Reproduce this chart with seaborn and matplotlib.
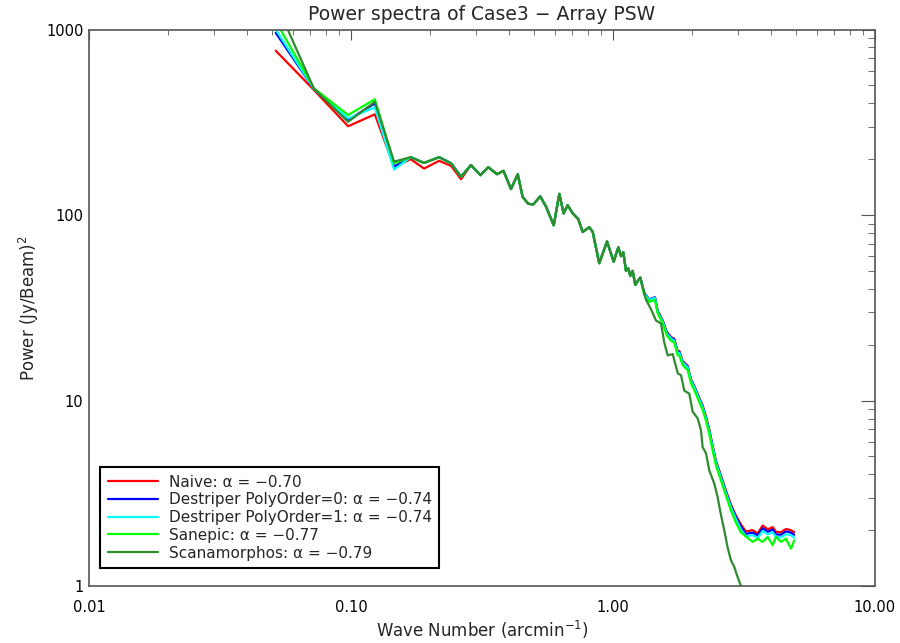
import matplotlib
matplotlib.use('Agg')
import matplotlib.pyplot as plt
import matplotlib.ticker as mticker
import seaborn as sns
import pandas as pd

# Wave numbers (arcmin^-1)
k_low = [0.0516, 0.0722, 0.0975, 0.1233, 0.146]
k_mid = [0.169, 0.190, 0.217, 0.241, 0.263, 0.287, 0.312, 0.334, 0.361, 0.382,
         0.408, 0.433, 0.452, 0.475, 0.496, 0.528, 0.555, 0.594, 0.624, 0.648,
         0.671, 0.702, 0.737, 0.766, 0.812, 0.837, 0.886, 0.949, 1.006, 1.048,
         1.073, 1.095, 1.121, 1.144, 1.164, 1.189, 1.216, 1.242, 1.271]
k_high = [1.316, 1.376, 1.446, 1.481, 1.548, 1.603, 1.665, 1.714, 1.767, 1.791,
          1.845, 1.927, 1.985, 2.043, 2.135, 2.199, 2.264, 2.331, 2.400, 2.470,
          2.581, 2.697, 2.818, 2.945, 3.077, 3.215, 3.414, 3.567, 3.727, 3.895,
          4.070, 4.188, 4.376, 4.572, 4.778, 4.918]
k_high_scana = [1.336, 1.397, 1.459, 1.525, 1.570, 1.618, 1.690, 1.767, 1.818, 1.871,
                1.955, 2.015, 2.106, 2.167, 2.199, 2.264, 2.331, 2.436, 2.507, 2.581,
                2.658, 2.737, 2.818, 2.902, 2.988, 3.096]

# Power (Jy/Beam)^2
mid_common = [205, 191, 205, 190, 161, 186, 164, 181, 166, 173,
              138, 166, 125, 115, 114, 126, 111, 88, 130, 102,
              113, 102, 95, 81, 86, 81, 55, 72, 56, 67,
              60, 63, 50, 51.5, 47, 50, 42, 44, 46]
mid_naive_start = [200, 178, 196, 184, 156]

naive_low = [769, 472, 301, 349, 182]
dp0_low = [960, 478, 325, 400, 182]
dp1_low = [1000, 478, 332, 380, 176]
sanepic_low = [1110, 482, 346, 421, 190]
scana_low = [1400, 480, 318, 408, 194]

naive_high = [38, 35, 36, 30.5, 27, 23.5, 22, 21.5, 18.3, 18.5,
              16.3, 15.4, 13.0, 12.0, 10.3, 9.4, 8.2, 7.0, 5.7, 4.75,
              3.95, 3.28, 2.75, 2.4, 2.15, 1.97, 2.0, 1.92, 2.12, 2.02,
              2.08, 1.96, 1.95, 2.03, 2.0, 1.95]
dp0_high = [38, 35, 36, 30.3, 26.8, 23.3, 21.8, 21.3, 18.1, 18.3,
            16.1, 15.2, 12.9, 11.9, 10.2, 9.3, 8.1, 6.9, 5.65, 4.7,
            3.9, 3.22, 2.7, 2.35, 2.09, 1.91, 1.94, 1.87, 2.05, 1.96,
            2.02, 1.9, 1.89, 1.97, 1.94, 1.89]
dp1_high = [37.8, 34.8, 35.8, 30, 26.6, 23, 21.6, 21, 18, 18.1,
            16, 15.1, 12.8, 11.8, 10.1, 9.2, 8.0, 6.85, 5.6, 4.65,
            3.85, 3.18, 2.66, 2.3, 2.02, 1.86, 1.88, 1.82, 1.98, 1.9,
            1.95, 1.84, 1.83, 1.9, 1.88, 1.82]
sanepic_high = [37, 34, 35, 29.5, 26, 22.5, 21, 20.5, 17.5, 17.5,
                15.5, 14.6, 12.4, 11.4, 9.8, 8.9, 7.8, 6.6, 5.4, 4.48,
                3.72, 3.08, 2.56, 2.2, 1.95, 1.85, 1.73, 1.80, 1.73, 1.84,
                1.66, 1.84, 1.73, 1.80, 1.59, 1.76]
scana_high = [35, 31, 27, 26, 20.5, 17.5, 17.8, 14, 13.7, 11.3,
              10.9, 8.7, 8.0, 6.9, 5.6, 5.2, 4.2, 3.56, 3.02, 2.43,
              2.0, 1.62, 1.38, 1.27, 1.12, 0.98]

labels = ['Naive: α = −0.70',
          'Destriper PolyOrder=0: α = −0.74',
          'Destriper PolyOrder=1: α = −0.74',
          'Sanepic: α = −0.77',
          'Scanamorphos: α = −0.79']
colors = ['#ff0000', '#0000ff', '#00ffff', '#00ff00', '#2e8b2e']

series = [
    (k_low + k_mid + k_high, naive_low + mid_naive_start + mid_common[5:] + naive_high),
    (k_low + k_mid + k_high, dp0_low + mid_common + dp0_high),
    (k_low + k_mid + k_high, dp1_low + mid_common + dp1_high),
    (k_low + k_mid + k_high, sanepic_low + mid_common + sanepic_high),
    (k_low + k_mid + k_high_scana, scana_low + mid_common + scana_high),
]

rows = []
for lab, (xs, ys) in zip(labels, series):
    for x, y in zip(xs, ys):
        rows.append({'k': x, 'P': y, 'method': lab})
df = pd.DataFrame(rows)

sns.set_style('white')
plt.rcParams['font.family'] = ['DejaVu Sans']

fig = plt.figure(figsize=(9, 6.43), dpi=100)
ax = fig.add_axes([0.0989, 0.0886, 0.8733, 0.8655])

sns.lineplot(data=df, x='k', y='P', hue='method', hue_order=labels,
             palette=dict(zip(labels, colors)), estimator=None, sort=False,
             linewidth=1.6, ax=ax)

ax.set_xscale('log')
ax.set_yscale('log')
ax.set_xlim(0.01, 10)
ax.set_ylim(1, 1000)

ax.xaxis.set_major_locator(mticker.FixedLocator([0.01, 0.1, 1, 10]))
ax.xaxis.set_major_formatter(mticker.FixedFormatter(['0.01', '0.10', '1.00', '10.00']))
ax.yaxis.set_major_locator(mticker.FixedLocator([1, 10, 100, 1000]))
ax.yaxis.set_major_formatter(mticker.FixedFormatter(['1', '10', '100', '1000']))
ax.xaxis.set_minor_locator(mticker.LogLocator(base=10, subs=range(2, 10), numticks=20))
ax.yaxis.set_minor_locator(mticker.LogLocator(base=10, subs=range(2, 10), numticks=20))
ax.xaxis.set_minor_formatter(mticker.NullFormatter())
ax.yaxis.set_minor_formatter(mticker.NullFormatter())

axcol = '#555555'
for s in ax.spines.values():
    s.set_color(axcol)
    s.set_linewidth(1.2)
ax.tick_params(axis='both', which='both', direction='in', top=True, right=True,
               colors=axcol, labelcolor='black', labelsize=10.5)
ax.tick_params(axis='x', which='major', length=7, pad=10)
ax.tick_params(axis='x', which='minor', length=3.5)
ax.tick_params(axis='y', which='major', length=10, pad=4)
ax.tick_params(axis='y', which='minor', length=5)

ax.set_title('Power spectra of Case3 − Array PSW', fontsize=13.5, pad=7)
ax.set_xlabel('Wave Number (arcmin$^{-1}$)', fontsize=12, labelpad=3)
ax.set_ylabel('Power (Jy/Beam)$^2$', fontsize=12, labelpad=4)

handles, _ = ax.get_legend_handles_labels()
leg = ax.legend(handles, labels, loc='lower left', bbox_to_anchor=(0.014, 0.032),
                borderaxespad=0, fontsize=11, handlelength=3.3, handletextpad=0.7,
                labelspacing=0.18, borderpad=0.5, frameon=True, fancybox=False,
                framealpha=1, edgecolor='black')
leg.get_frame().set_linewidth(1.5)

fig.savefig('out.png', dpi=100)
